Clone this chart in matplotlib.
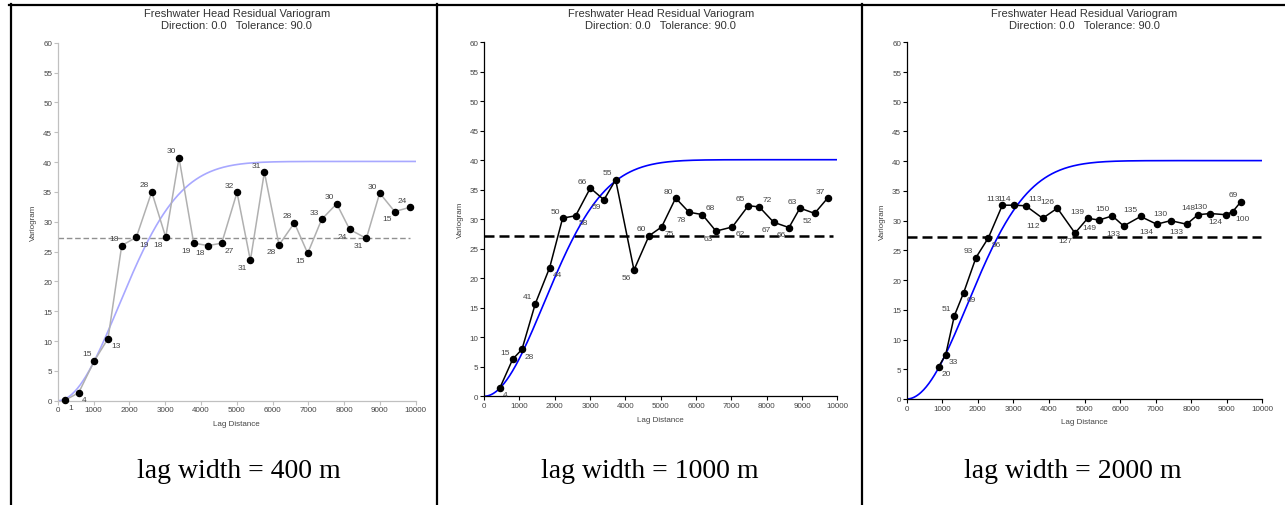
import numpy as np
import matplotlib
matplotlib.use('Agg')
from matplotlib import pyplot as plt
from matplotlib.lines import Line2D

plt.rcParams['font.family'] = ['Liberation Sans', 'DejaVu Sans']

W, H = 1285, 506

# lag width = 400 m
lag1 = [214, 587, 1024, 1406, 1788, 2197, 2626, 3017, 3389, 3799, 4199, 4581, 5009,
        5382, 5773, 6182, 6611, 6983, 7374, 7793, 8156, 8622, 8994, 9413, 9832]
gam1 = [0.11, 1.34, 6.7, 10.4, 26.0, 27.4, 35.0, 27.4, 40.7, 26.4, 26.0, 26.4, 34.9,
        23.5, 38.3, 26.1, 29.8, 24.7, 30.4, 33.0, 28.7, 27.2, 34.8, 31.7, 32.4]
npairs1 = [1, 4, 15, 13, 18, 19, 28, 18, 30, 19, 18, 27, 32,
           31, 31, 28, 28, 15, 33, 30, 24, 31, 30, 15, 24]

# lag width = 1000 m
lag2 = [453, 811, 1075, 1453, 1858, 2226, 2594, 3009, 3396, 3726, 4245, 4670, 5028,
        5425, 5802, 6179, 6566, 7028, 7481, 7792, 8198, 8632, 8943, 9358, 9726]
gam2 = [1.47, 6.27, 7.97, 15.7, 21.8, 30.2, 30.6, 35.3, 33.3, 36.7, 21.4, 27.2, 28.7,
        33.6, 31.2, 30.8, 28.0, 28.7, 32.3, 32.1, 29.5, 28.6, 31.9, 31.0, 33.6]
npairs2 = [4, 15, 28, 41, 44, 50, 58, 66, 59, 55, 56, 60, 75,
           80, 78, 68, 63, 62, 65, 72, 67, 66, 63, 52, 37]

# lag width = 2000 m
lag3 = [900, 1097, 1340, 1603, 1949, 2296, 2690, 3018, 3346, 3824, 4236, 4733, 5089,
        5408, 5783, 6101, 6579, 7029, 7423, 7873, 8191, 8538, 8969, 9166, 9400]
gam3 = [5.44, 7.46, 14.0, 17.9, 23.8, 27.1, 32.6, 32.6, 32.5, 30.4, 32.1, 27.9, 30.4,
        30.1, 30.8, 29.1, 30.7, 29.4, 30.0, 29.4, 31.0, 31.2, 31.0, 31.5, 33.2]
npairs3 = [20, 33, 51, 69, 93, 96, 113, 114, 113, 112, 126, 127, 139,
           149, 150, 133, 135, 134, 130, 133, 148, 130, 124, 100, 69]

# gaussian model and sample variance
sill = 40.1
model_range = 2400
sample_var = 27.25

captions = ['lag width = 400 m', 'lag width = 1000 m', 'lag width = 2000 m']
title = 'Freshwater Head Residual Variogram\nDirection: 0.0   Tolerance: 90.0'

# where the pair counts sit around each point
pos1 = ['lr', 'lr', 'ul', 'lr', 'ul', 'lr', 'ul', 'll', 'ul', 'll', 'll', 'lr', 'ul',
        'll', 'ul', 'll', 'ul', 'll', 'ul', 'ul', 'll', 'll', 'ul', 'll', 'ul']
pos2 = ['lr', 'ul', 'lr', 'ul', 'lr', 'ul', 'lr', 'ul', 'll', 'ul', 'll', 'ul', 'lr',
        'ul', 'll', 'ur', 'll', 'lr', 'ul', 'ur', 'll', 'll', 'ul', 'll', 'ul']
pos3 = ['lr', 'lr', 'ul', 'lr', 'ul', 'lr', 'ul', 'ul', 'ur', 'll', 'ul', 'll', 'ul',
        'll', 'ul', 'll', 'ul', 'll', 'ul', 'll', 'ul', 'ul', 'll', 'lr', 'ul']

offs = {'ul': (-3, 7, 'right'), 'll': (-3, -7, 'right'),
        'ur': (3, 7, 'left'), 'lr': (3, -7, 'left')}

# axes boxes in pixels: left, top, right, bottom
boxes = [(57.7, 43.7, 415.7, 401.7), (484, 43.3, 837.3, 397.3), (906.7, 43.3, 1262.3, 400)]
dash_end = [9840, 9890, 9960]

panels = [
    dict(x=lag1, y=gam1, n=npairs1, pos=pos1, line='#b0b0b0', axc='#c0c0c0',
         model='#a8a8ff', dash='#909090', dlw=1.0),
    dict(x=lag2, y=gam2, n=npairs2, pos=pos2, line='black', axc='black',
         model='#0000ff', dash='black', dlw=1.8),
    dict(x=lag3, y=gam3, n=npairs3, pos=pos3, line='black', axc='black',
         model='#0000ff', dash='black', dlw=1.8),
]

fig = plt.figure(figsize=(W / 100, H / 100), dpi=100)
txtc = '#444444'

h = np.linspace(0, 10000, 400)
g = sill * (1 - np.exp(-(h / model_range) ** 2))

for i, p in enumerate(panels):
    l, t, r, b = boxes[i]
    ax = fig.add_axes([l / W, 1 - b / H, (r - l) / W, (b - t) / H])
    ax.plot(h, g, color=p['model'], lw=1.2, zorder=2)
    ax.plot([0, dash_end[i]], [sample_var, sample_var], color=p['dash'], lw=p['dlw'],
            dashes=(4, 2), zorder=1)
    ax.plot(p['x'], p['y'], color=p['line'], lw=1.1, marker='o', ms=4.4,
            mfc='black', mec='black', clip_on=False, zorder=3)
    for xv, yv, nv, ps in zip(p['x'], p['y'], p['n'], p['pos']):
        dx, dy, ha = offs[ps]
        ax.annotate(str(nv), (xv, yv), xytext=(dx, dy), textcoords='offset pixels',
                    ha=ha, va='center', fontsize=6, color=txtc, zorder=4)
    ax.set_xlim(0, 10000)
    ax.set_ylim(0, 60)
    ax.set_xticks(np.arange(0, 10001, 1000))
    ax.set_yticks(np.arange(0, 61, 5))
    for s in ['top', 'right']:
        ax.spines[s].set_visible(False)
    for s in ['left', 'bottom']:
        ax.spines[s].set_color(p['axc'])
        ax.spines[s].set_linewidth(0.9)
    ax.tick_params(length=3, width=0.8, color=p['axc'], labelsize=5.8,
                   labelcolor=txtc, pad=1)
    cx = (l + r) / 2
    fig.text(cx / W, 1 - 20 / H, title, ha='center', va='center', fontsize=8,
             color='#333333', linespacing=1.25)
    fig.text(cx / W, 1 - (b + 23) / H, 'Lag Distance', ha='center', va='center',
             fontsize=5.8, color=txtc)
    fig.text((l - 24) / W, 1 - (t + b) / 2 / H, 'Variogram', ha='center', va='center',
             rotation=90, fontsize=5.8, color=txtc)

cap_x = [239, 650, 1073]
for cx, c in zip(cap_x, captions):
    fig.text(cx / W, 1 - 472 / H, c, ha='center', va='center', fontsize=20,
             family='Liberation Serif', color='black')

# table borders
def hline(x0, x1, y, lw):
    fig.add_artist(Line2D([x0 / W, x1 / W], [1 - y / H, 1 - y / H], color='black', lw=lw))

def vline(x, y0, y1, lw):
    fig.add_artist(Line2D([x / W, x / W], [1 - y0 / H, 1 - y1 / H], color='black', lw=lw))

hline(9, W, 6, 1.6)
vline(10.5, 5, H, 1.6)
vline(436.5, 5, H, 1.6)
vline(862, 5, H, 1.6)

fig.savefig('out.png', dpi=100)
